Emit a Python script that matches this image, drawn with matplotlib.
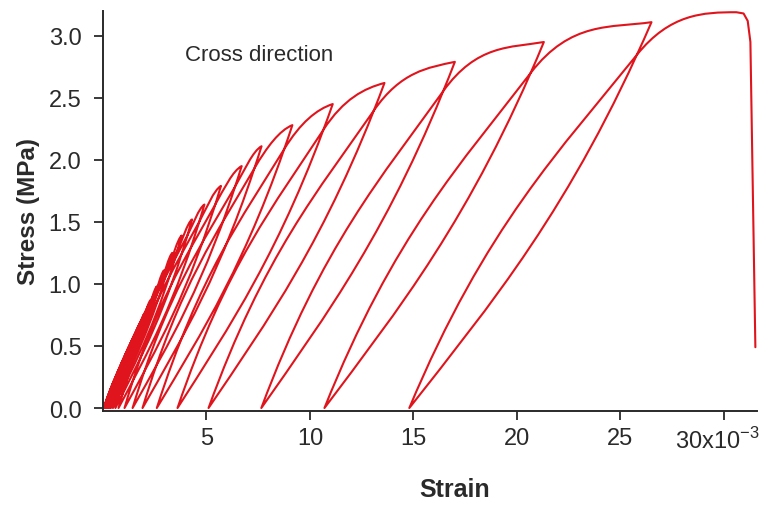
import matplotlib
matplotlib.use("Agg")
import matplotlib.pyplot as plt
from matplotlib.path import Path
from matplotlib.patches import PathPatch
from matplotlib.transforms import ScaledTranslation

plt.rcParams['font.family'] = ['Liberation Sans', 'DejaVu Sans']
plt.rcParams['mathtext.fontset'] = 'custom'
plt.rcParams['mathtext.rm'] = 'Liberation Sans'

# Cyclic tensile test, cross direction. Strain in units of 1e-3, stress in MPa.
peak_strain = [0.9, 1.1, 1.3, 1.5, 1.75, 2.0, 2.3, 2.6, 2.95, 3.35, 3.8, 4.3,
               4.9, 5.7, 6.7, 7.66, 9.15, 11.1, 13.6, 17.0, 21.3, 26.5]
peak_stress = [0.33, 0.41, 0.49, 0.57, 0.66, 0.76, 0.87, 0.98, 1.11, 1.25, 1.39, 1.52,
               1.64, 1.79, 1.95, 2.11, 2.28, 2.45, 2.62, 2.79, 2.95, 3.11]
resid_strain = [0.04, 0.05, 0.07, 0.09, 0.12, 0.15, 0.19, 0.24, 0.30, 0.38, 0.48, 0.60,
                0.75, 1.04, 1.43, 1.91, 2.6, 3.6, 5.1, 7.65, 10.7, 14.8]
start_strain = 0.15
# final loading to rupture
fail_strain = [30.6, 30.95, 31.15, 31.28, 31.52]
fail_stress = [3.19, 3.18, 3.12, 2.95, 0.49]

xticks = [5, 10, 15, 20, 25, 30]
xtick_labels = ['5', '10', '15', '20', '25', r'30x10$^{\mathregular{-3}}$']
yticks = [0.0, 0.5, 1.0, 1.5, 2.0, 2.5, 3.0]
ytick_labels = ['0.0', '0.5', '1.0', '1.5', '2.0', '2.5', '3.0']

RED = '#e0141c'
INK = '#2a2a2a'


def hermite(a, b, ma, mb):
    """Cubic Bezier controls for a branch from a to b with slopes ma, mb."""
    L = b[0] - a[0]
    c1 = (a[0] + L / 3.0, a[1] + ma * L / 3.0)
    c2 = (b[0] - L / 3.0, b[1] - mb * L / 3.0)
    return [c1, c2, b]


def bezier_at(p0, p1, p2, p3, t):
    u = 1 - t
    return tuple(u**3 * p0[k] + 3 * u * u * t * p1[k] + 3 * u * t * t * p2[k] + t**3 * p3[k]
                 for k in range(2))


verts = [(start_strain, 0.0)]
codes = [Path.MOVETO]
prev = verts[0]
prev_slope = 0.30

for ep, sp, ev in zip(peak_strain, peak_stress, resid_strain):
    peak = (ep, sp)
    valley = (ev, 0.0)
    chord = sp / (ep - ev)
    # loading branch up to the new peak
    env_chord = (sp - prev[1]) / (ep - prev[0])
    seg = hermite(prev, peak, prev_slope, 0.35 * env_chord)
    verts += seg
    codes += [Path.CURVE4] * 3
    # unloading branch down to zero stress
    seg = hermite(peak, valley, 1.45 * chord, 0.8 * chord)
    verts += seg
    codes += [Path.CURVE4] * 3
    cross = bezier_at(peak, seg[0], seg[1], seg[2], 0.06)
    # reloading branch back through the unloading curve
    seg = hermite(valley, cross, 1.5 * chord, 0.78 * chord)
    verts += seg
    codes += [Path.CURVE4] * 3
    prev = cross
    prev_slope = 0.78 * chord

top = (fail_strain[0], fail_stress[0])
verts += hermite(prev, top, prev_slope, 0.0)
codes += [Path.CURVE4] * 3
for x, y in zip(fail_strain[1:], fail_stress[1:]):
    verts.append((x, y))
    codes.append(Path.LINETO)

fig = plt.figure(figsize=(7.59, 5.06), dpi=100)
ax = fig.add_axes([0.1357, 0.1858, 0.8617, 0.7905])

ax.add_patch(PathPatch(Path(verts, codes), facecolor='none', edgecolor=RED,
                       lw=1.5, joinstyle='round', capstyle='round'))

ax.set_xlim(0, 31.6)
ax.set_ylim(-0.024, 3.2)

for side in ('top', 'right'):
    ax.spines[side].set_visible(False)
for side in ('left', 'bottom'):
    ax.spines[side].set_color(INK)
    ax.spines[side].set_linewidth(1.4)

ax.set_xticks(xticks)
ax.set_xticklabels(xtick_labels)
ax.set_yticks(yticks)
ax.set_yticklabels(ytick_labels)
ax.tick_params(direction='out', length=6.5, width=1.3, color=INK,
               labelsize=17, labelcolor=INK)
ax.tick_params(axis='x', pad=5)
ax.tick_params(axis='y', pad=9)

# keep the last strain label inside the figure
last = ax.get_xticklabels()[-1]
last.set_horizontalalignment('right')
last.set_transform(last.get_transform() + ScaledTranslation(0.36, 0, fig.dpi_scale_trans))

ax.set_xlabel('Strain', fontsize=18, fontweight='bold', color=INK, labelpad=6)
ax.xaxis.set_label_coords(0.538, -0.165)
ax.set_ylabel('Stress (MPa)', fontsize=17.5, fontweight='bold', color=INK, labelpad=6)

ax.text(3.94, 2.85, 'Cross direction', fontsize=16, color=INK, va='center', ha='left')

fig.savefig('out.png', dpi=100)
